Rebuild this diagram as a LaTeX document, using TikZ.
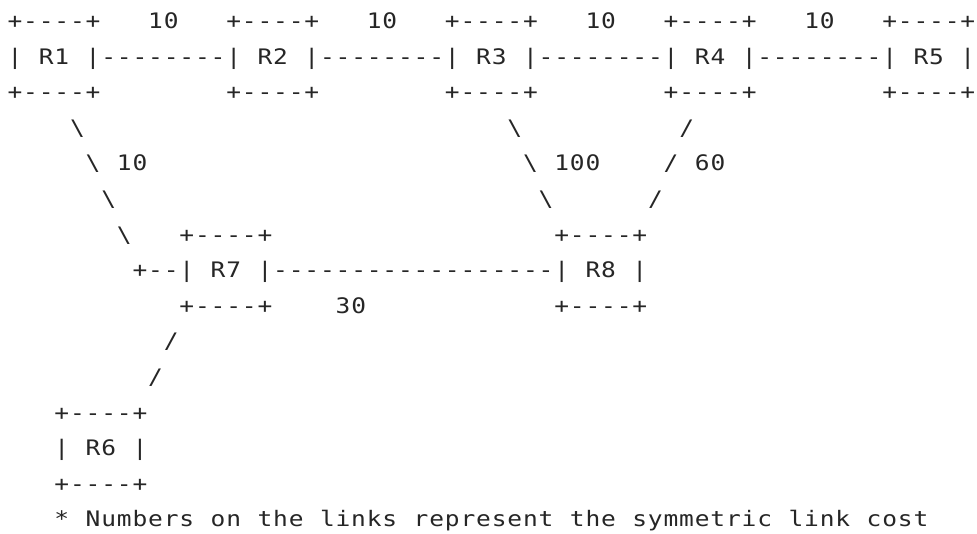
\documentclass[tikz,border=0pt]{standalone}
\usepackage{fontspec}
\newfontfamily\asciifont[FakeStretch=1.15]{DejaVu Sans Mono}
\definecolor{ink}{RGB}{38,38,38}
\newlength\cellw
\setlength\cellw{11.715pt}
\makeatletter
% set a string one character per fixed-width cell (~ is an empty cell)
\newcommand\cells[1]{\cells@loop#1\relax}
\def\cells@loop#1{\ifx\relax#1\else\makebox[\cellw][c]{#1}\expandafter\cells@loop\fi}
\makeatother
\tikzset{
  ascii/.style={inner sep=0pt, outer sep=0pt, anchor=base west, text=ink,
    font=\asciifont\fontsize{16pt}{20pt}\selectfont},
}
% a router box drawn with +, - and | over three text rows
\newcommand\asciibox[4]{%
  \node[ascii] (#1-top) at (#2,#3-1) {\cells{+----+}};
  \node[ascii] (#1)     at (#2,#3)   {\cells{|~#4~|}};
  \node[ascii] (#1-bot) at (#2,#3+1) {\cells{+----+}};
}
\begin{document}
\begin{tikzpicture}
\fill[white] (0,0) rectangle (732.75pt,-399.75pt);
\useasboundingbox (0,0) rectangle (732.75pt,-399.75pt);
\begin{scope}[shift={(5.4pt,-21.3pt)}, x=11.715pt, y=-26.7pt]
  % routers
  \asciibox{R1}{0}{1}{R1}
  \asciibox{R2}{14}{1}{R2}
  \asciibox{R3}{28}{1}{R3}
  \asciibox{R4}{42}{1}{R4}
  \asciibox{R5}{56}{1}{R5}
  \asciibox{R7}{11}{7}{R7}
  \asciibox{R8}{35}{7}{R8}
  \asciibox{R6}{3}{12}{R6}
  % top chain of links and their costs
  \node[ascii] (l12) at (6,1)  {\cells{--------}};
  \node[ascii] (l23) at (20,1) {\cells{--------}};
  \node[ascii] (l34) at (34,1) {\cells{--------}};
  \node[ascii] (l45) at (48,1) {\cells{--------}};
  \node[ascii] (c12) at (9,0)  {\cells{10}};
  \node[ascii] (c23) at (23,0) {\cells{10}};
  \node[ascii] (c34) at (37,0) {\cells{10}};
  \node[ascii] (c45) at (51,0) {\cells{10}};
  % R1 -- R7
  \node[ascii] (l17a) at (4,3) {\cells{\textbackslash}};
  \node[ascii] (l17b) at (5,4) {\cells{\textbackslash}};
  \node[ascii] (l17c) at (6,5) {\cells{\textbackslash}};
  \node[ascii] (l17d) at (7,6) {\cells{\textbackslash}};
  \node[ascii] (l17e) at (8,7) {\cells{+--}};
  \node[ascii] (c17)  at (7,4) {\cells{10}};
  % R3 -- R8
  \node[ascii] (l38a) at (32,3) {\cells{\textbackslash}};
  \node[ascii] (l38b) at (33,4) {\cells{\textbackslash}};
  \node[ascii] (l38c) at (34,5) {\cells{\textbackslash}};
  \node[ascii] (c38)  at (35,4) {\cells{100}};
  % R4 -- R8
  \node[ascii] (l48a) at (43,3) {\cells{/}};
  \node[ascii] (l48b) at (42,4) {\cells{/}};
  \node[ascii] (l48c) at (41,5) {\cells{/}};
  \node[ascii] (c48)  at (44,4) {\cells{60}};
  % R7 -- R8
  \node[ascii] (l78) at (17,7) {\cells{------------------}};
  \node[ascii] (c78) at (21,8) {\cells{30}};
  % R7 -- R6
  \node[ascii] (l76a) at (10,9)  {\cells{/}};
  \node[ascii] (l76b) at (9,10)  {\cells{/}};
  % footnote
  \node[ascii] (note) at (3,14) {\cells{*~Numbers~on~the~links~represent~the~symmetric~link~cost}};
\end{scope}
\end{tikzpicture}
\end{document}
